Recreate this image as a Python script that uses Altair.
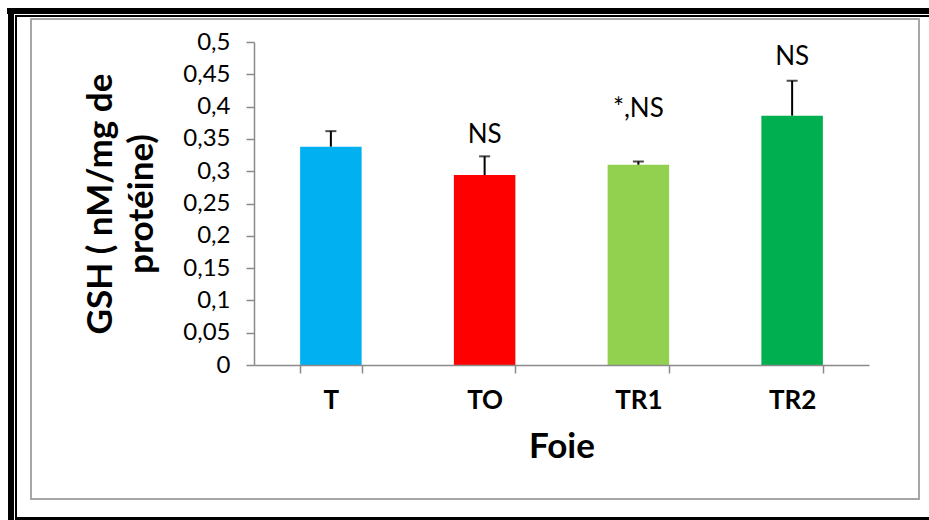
import altair as alt
import pandas as pd

categories = ["T", "TO", "TR1", "TR2"]
means = [0.338, 0.294, 0.310, 0.386]
errors = [0.024, 0.029, 0.005, 0.054]
colors = ["#00B0F0", "#FF0000", "#92D050", "#00B050"]
annotations = ["", "NS", "*,NS", "NS"]
annotation_y = [0.0, 0.356, 0.396, 0.477]
y_ticks = [0, 0.05, 0.1, 0.15, 0.2, 0.25, 0.3, 0.35, 0.4, 0.45, 0.5]

df = pd.DataFrame({
    "cat": categories,
    "mean": means,
    "upper": [m + e for m, e in zip(means, errors)],
    "annot": annotations,
    "annot_y": annotation_y,
})

FONT = "Lato"
AXIS_GREY = "#8a8a8a"

x_scale = alt.Scale(domain=categories, paddingInner=0.6, paddingOuter=0.3)
y_scale = alt.Scale(domain=[0, 0.5], nice=False)

x_axis = alt.Axis(
    title="Foie",
    titleFont=FONT, titleFontSize=35, titleFontWeight="bold", titleColor="black",
    titlePadding=16,
    labelFont=FONT, labelFontSize=26, labelFontWeight="bold", labelColor="black",
    labelAngle=0, labelPadding=14,
    tickBand="extent", tickSize=8, tickColor=AXIS_GREY, tickWidth=1.5,
    domainColor=AXIS_GREY, domainWidth=1.5, grid=False, zindex=1,
)

y_axis = alt.Axis(
    title=["GSH ( nM/mg de", "protéine)"],
    titleFont=FONT, titleFontSize=35, titleFontWeight="bold", titleColor="black",
    titleLineHeight=41, titlePadding=23,
    values=y_ticks,
    labelExpr="replace(format(datum.value, '.2~f'), '.', ',')",
    labelOverlap=False,
    labelFont=FONT, labelFontSize=24, labelColor="black", labelPadding=16,
    tickSize=8, tickColor=AXIS_GREY, tickWidth=1.5,
    domainColor=AXIS_GREY, domainWidth=1.5, grid=False, zindex=1,
)

def xe():
    return alt.X("cat:N", sort=categories, scale=x_scale, axis=x_axis)

def ye(field):
    return alt.Y(field, type="quantitative", scale=y_scale, axis=y_axis)

base = alt.Chart(df)

bars = base.mark_bar().encode(
    x=xe(),
    y=ye("mean"),
    color=alt.Color("cat:N", scale=alt.Scale(domain=categories, range=colors), legend=None),
)

err_rules = base.mark_rule(color="black", strokeWidth=2).encode(
    x=xe(),
    y=ye("mean"),
    y2="upper:Q",
)

err_caps = base.mark_tick(color="black", thickness=2, size=11).encode(
    x=xe(),
    y=ye("upper"),
)

labels = base.transform_filter("datum.annot != ''").mark_text(
    font=FONT, fontSize=26, color="black", baseline="middle"
).encode(
    x=xe(),
    y=ye("annot_y"),
    text="annot:N",
)

frame_src = alt.Chart(pd.DataFrame({"k": [0]}))

def frame_rect(x, x2, y, y2, color):
    return frame_src.mark_rect(color=color).encode(
        x=alt.value(x), x2=alt.value(x2), y=alt.value(y), y2=alt.value(y2)
    )

# plot origin sits at (254, 42) of the page
frames = [
    frame_rect(-247, 675, -34, -28, "black"),   # thick top
    frame_rect(-246, -240, -34, 478, "black"),  # thick left
    frame_rect(-239, 675, -27, -25, "black"),   # thin top
    frame_rect(-239, -237, -27, 478, "black"),  # thin left
    frame_rect(-239, 675, 475, 478, "black"),   # bottom
]
grey_box = frame_src.mark_rect(filled=False, stroke="#a6a6a6", strokeWidth=2).encode(
    x=alt.value(-223), x2=alt.value(665), y=alt.value(-23), y2=alt.value(457)
)

chart = alt.layer(
    *frames, grey_box, bars, err_rules, err_caps, labels
).properties(
    width=615,
    height=323,
    autosize=alt.AutoSizeParams(type="none"),
    padding={"left": 254, "top": 42, "right": 60, "bottom": 155},
    background="white",
).configure_view(strokeWidth=0).configure_axis(labelOverlap=False)

chart.save("out.html", embed_options={"renderer": "svg", "actions": False})
